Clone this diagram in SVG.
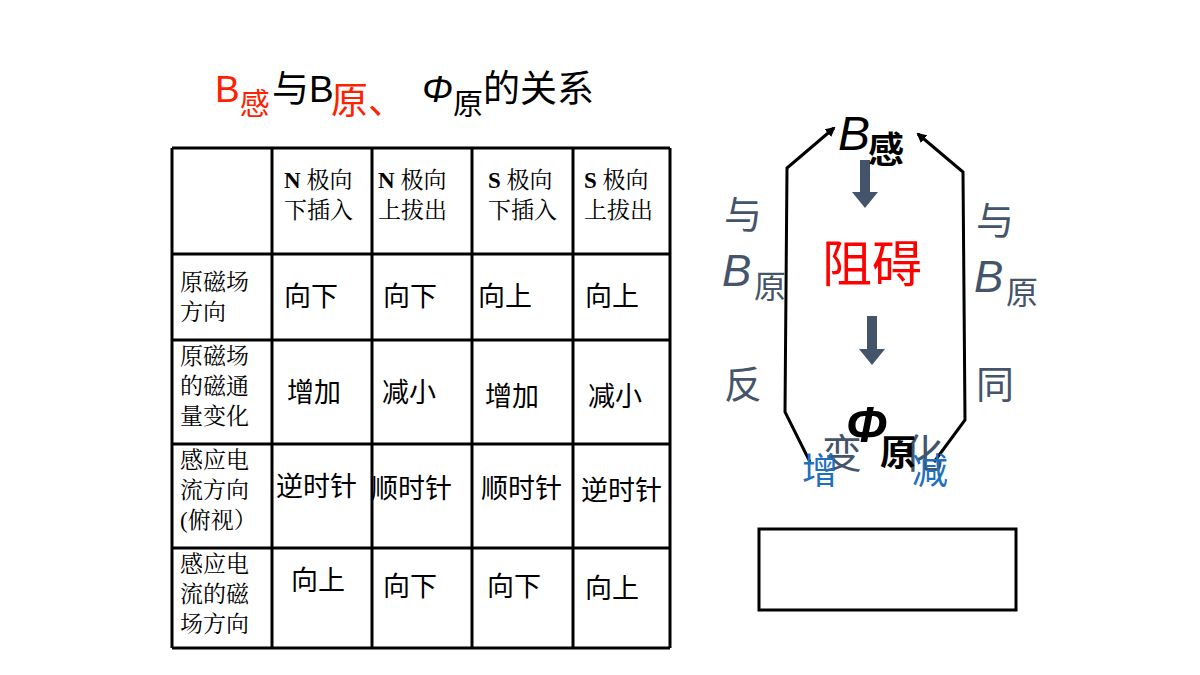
<svg xmlns="http://www.w3.org/2000/svg" width="1200" height="675" viewBox="0 0 1200 675">
<style>
.s{font-family:"Liberation Serif","Noto Serif CJK SC","Noto Sans CJK SC",serif;font-size:23px;fill:#000}
.d{font-family:"Liberation Sans","Noto Sans CJK SC",sans-serif;font-size:27px;fill:#000}
.g{font-family:"Liberation Sans","Noto Sans CJK SC",sans-serif;fill:#44546a}
.t{font-family:"Liberation Sans","Noto Sans CJK SC",sans-serif;font-size:37px}
.l{stroke:#000;stroke-width:3;fill:none}
</style>
<defs><marker id="a" markerWidth="10" markerHeight="10" refX="8" refY="5" orient="auto" markerUnits="userSpaceOnUse"><path d="M0,0 L10,5 L0,10 z" fill="#000"/></marker></defs>
<rect width="1200" height="675" fill="#fff"/>
<g id="title">
<text x="215" y="102" class="t" fill="#ff2000">B<tspan font-size="30" dy="12">感</tspan></text>
<text x="272" y="102" class="t" fill="#000">与B</text>
<text x="331" y="114" class="t" fill="#ff2000" font-size="30">原、</text>
<text x="422" y="102" class="t" fill="#000" font-style="italic">Φ<tspan font-size="30" font-style="normal" dy="12">原</tspan><tspan dy="-12" font-style="normal">的关系</tspan></text>
</g>
<g id="table">
<g class="l">
<path d="M172,148 H670 M172,254 H670 M172,340 H670 M172,444 H670 M172,548 H670 M172,648 H670"/>
<path d="M172,148 V648 M272,148 V648 M372,148 V648 M472,148 V648 M573,148 V648 M670,148 V648"/>
</g>
<text class="s" x="284" y="188"><tspan font-weight="bold">N</tspan> 极向</text><text class="s" x="284" y="218">下插入</text>
<text class="s" x="378" y="188"><tspan font-weight="bold">N</tspan> 极向</text><text class="s" x="378" y="218">上拔出</text>
<text class="s" x="488" y="188"><tspan font-weight="bold">S</tspan> 极向</text><text class="s" x="488" y="218">下插入</text>
<text class="s" x="584" y="188"><tspan font-weight="bold">S</tspan> 极向</text><text class="s" x="584" y="218">上拔出</text>
<text class="s" x="180" y="290">原磁场</text><text class="s" x="180" y="320">方向</text>
<text class="s" x="180" y="364">原磁场</text><text class="s" x="180" y="394">的磁通</text><text class="s" x="180" y="424">量变化</text>
<text class="s" x="180" y="468">感应电</text><text class="s" x="180" y="498">流方向</text><text class="s" x="180" y="528">(俯视）</text>
<text class="s" x="180" y="572">感应电</text><text class="s" x="180" y="602">流的磁</text><text class="s" x="180" y="632">场方向</text>
<text class="d" x="284" y="306">向下</text><text class="d" x="383" y="306">向下</text><text class="d" x="478" y="306">向上</text><text class="d" x="585" y="306">向上</text>
<text class="d" x="287" y="402">增加</text><text class="d" x="382" y="402">减小</text><text class="d" x="485" y="406">增加</text><text class="d" x="588" y="406">减小</text>
<text class="d" x="276" y="496">逆时针</text><text class="d" x="371" y="498">顺时针</text><text class="d" x="481" y="498">顺时针</text><text class="d" x="581" y="500">逆时针</text>
<text class="d" x="291" y="590">向上</text><text class="d" x="383" y="596">向下</text><text class="d" x="487" y="596">向下</text><text class="d" x="585" y="598">向上</text>
</g>
<g id="connectors">
<path class="l" d="M810,462 L785,412 L787,168 L834,128" marker-end="url(#a)"/>
<path class="l" d="M934,462 L965,420 L963,172 L918,134" marker-end="url(#a)"/>
<path d="M860,160 h10 v32 h8 l-13,16 l-13,-16 h8 z" fill="#44546a"/>
<path d="M867,316 h10 v33 h8 l-13,16 l-13,-16 h8 z" fill="#44546a"/>
</g>
<g id="bgan"><text x="838" y="150" font-family="Liberation Sans,sans-serif" font-size="48" font-style="italic">B</text><text x="868" y="163" font-family="Noto Sans CJK SC,sans-serif" font-size="36" font-weight="bold">感</text></g>
<g id="zuai"><text x="822" y="282" font-family="Noto Sans CJK SC,sans-serif" font-size="50" fill="#ff0000">阻碍</text></g>
<g id="left" class="g"><text x="724" y="228" font-size="38">与</text><text x="722" y="286" font-size="44" font-style="italic">B</text><text x="754" y="298" font-size="32">原</text><text x="724" y="398" font-size="38">反</text></g>
<g id="right" class="g"><text x="976" y="234" font-size="38">与</text><text x="974" y="292" font-size="44" font-style="italic">B</text><text x="1006" y="304" font-size="32">原</text><text x="976" y="398" font-size="38">同</text></g>
<g id="phi">
<text x="822" y="468" class="g" font-size="40">变</text>
<text x="903" y="468" class="g" font-size="40">化</text>
<text x="846" y="442" font-family="Liberation Sans,sans-serif" font-size="50" font-style="italic" font-weight="bold">Φ</text>
<text x="880" y="466" font-family="Noto Sans CJK SC,sans-serif" font-size="36" font-weight="bold">原</text>
<text x="802" y="484" font-family="Noto Sans CJK SC,sans-serif" font-size="36" fill="#1e6fc0">增</text>
<text x="912" y="484" font-family="Noto Sans CJK SC,sans-serif" font-size="36" fill="#1e6fc0">减</text>
</g>
<g id="box"><rect x="759" y="529" width="257" height="81" fill="#fff" stroke="#000" stroke-width="3"/></g>
</svg>
